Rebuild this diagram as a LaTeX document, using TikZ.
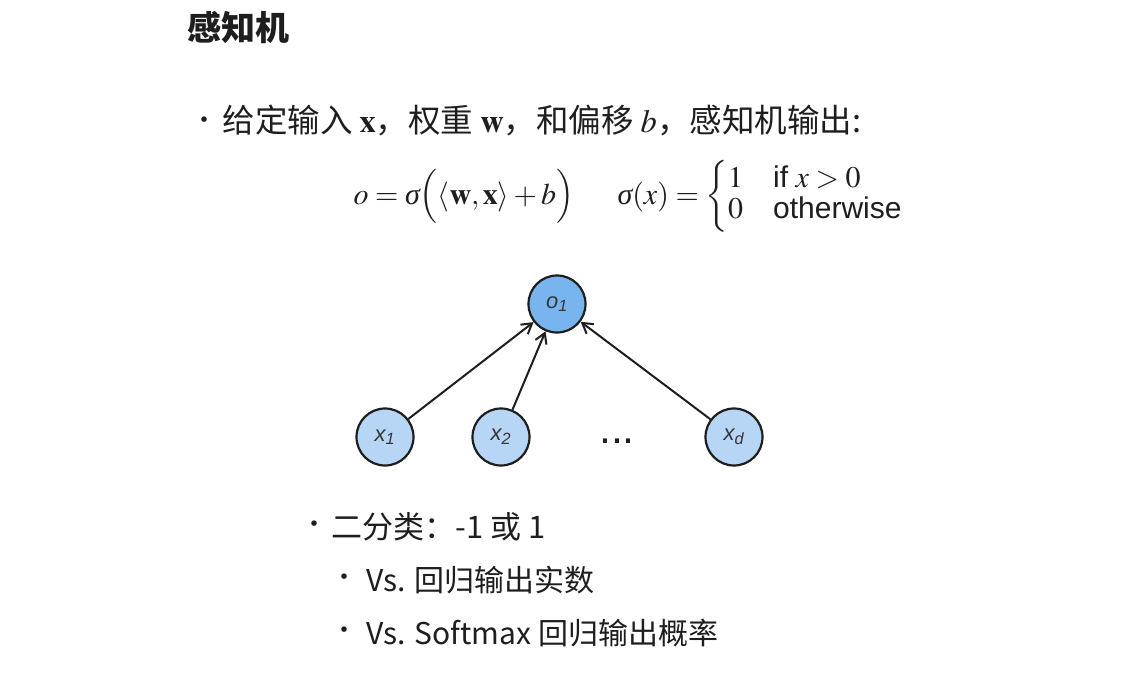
\documentclass[tikz,border=0pt]{standalone}
\usepackage{mathptmx}
\usepackage{fontspec}
\setmainfont{Liberation Serif}
\setsansfont{Liberation Sans}
\newfontfamily\cjk{Noto Sans CJK SC}
\usetikzlibrary{arrows.meta}
\definecolor{outblue}{HTML}{78B5EF}
\definecolor{inblue}{HTML}{B7D5F4}
\definecolor{ink}{HTML}{1E1E1E}
\newcommand{\sig}{\mbox{\rmfamily\itshape σ}}

\begin{document}
\begin{tikzpicture}[x=1pt, y=-1pt,
    >={Straight Barb[length=10pt, width=12pt, line width=2pt]},
    unit/.style={circle, draw=ink, line width=2.2pt, minimum size=57pt, inner sep=0pt,
      font=\fontsize{22}{26}\selectfont\sffamily\itshape, text=ink!90},
    txt/.style={anchor=base west, font=\cjk\fontsize{30}{36}\selectfont, text=ink},
    bul/.style={font=\cjk\fontsize{26}{30}\selectfont, text=ink}]
  \fill[white] (0,0) rectangle (1143,680);
  \useasboundingbox (0,0) rectangle (1143,680);

  % heading
  \node[anchor=base west, text=ink, font=\cjk\bfseries\fontsize{34}{40}\selectfont] (title) at (184,40) {感知机};

  % definition
  \node[bul] (b1) at (204,123) {•};
  \node[txt, font=\cjk\fontsize{32.5}{38}\selectfont] (def) at (219,132)
    {给定输入\hspace{7pt}$\mathbf{x}$，权重\hspace{7pt}$\mathbf{w}$，和偏移\hspace{7pt}$b$，感知机输出:};
  \node[anchor=base west, text=ink, font=\fontsize{30}{36}\selectfont] (eqo) at (350,204)
    {$o=\sig\Bigl(\langle\mathbf{w},\mathbf{x}\rangle+b\Bigr)$};
  \node[anchor=base west, text=ink, font=\fontsize{30}{30}\selectfont] (eqs) at (614,204)
    {\renewcommand{\arraystretch}{1.05}%
     $\sig(x)=\left\{\begin{array}{@{}l@{\quad}l@{}}
       1 & \textsf{if}\ x>0\\
       0 & \textsf{otherwise}
     \end{array}\right.$};

  % network
  \node[unit, fill=outblue] (o1) at (557,304) {o\textsubscript{1}};
  \foreach \n/\px/\s in {x1/385/1, x2/501/2, xd/734/d}
    \node[unit, fill=inblue] (\n) at (\px,437) {x\textsubscript{\s}};
  \node[text=ink, font=\fontsize{43}{46}\selectfont\sffamily] (dots) at (617,441) {...};
  \foreach \n in {x1, x2, xd}
    \draw[->, line width=2pt, ink] (\n) -- (o1);

  % remarks
  \node[bul] (b2) at (314,527) {•};
  \node[txt, font=\cjk\fontsize{31}{36}\selectfont] (cls) at (328,538) {二分类：-1 或 1};
  \node[bul] (b3) at (344,580) {•};
  \node[txt] (reg) at (363,591) {Vs. 回归输出实数};
  \node[bul] (b4) at (344,633) {•};
  \node[txt] (soft) at (363,644) {Vs. Softmax 回归输出概率};
\end{tikzpicture}
\end{document}
